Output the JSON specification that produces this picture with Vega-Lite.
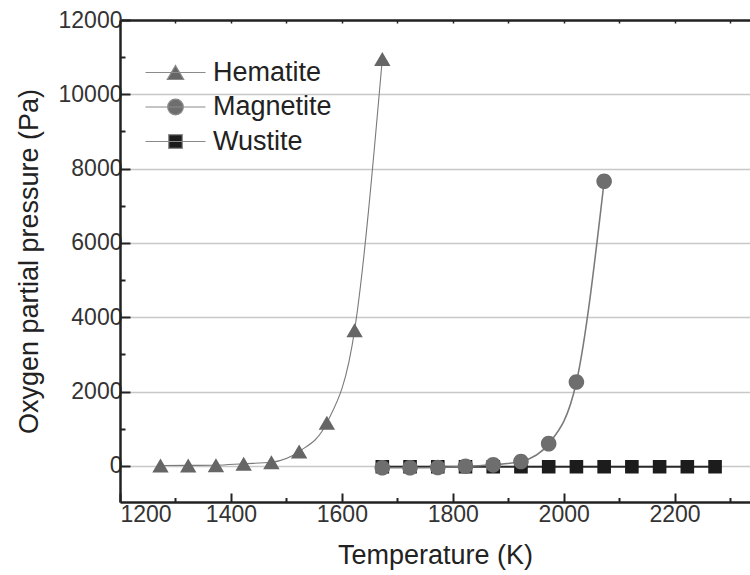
{
  "$schema": "https://vega.github.io/schema/vega-lite/v6.json",
  "width": 630,
  "height": 482,
  "autosize": {"type": "none"},
  "padding": {"left": 120, "top": 20, "right": 0, "bottom": 73},
  "background": "white",
  "config": {
    "view": {"stroke": null},
    "font": "Liberation Sans",
    "axis": {
      "labelFont": "Liberation Sans",
      "titleFont": "Liberation Sans",
      "labelFontSize": 23,
      "titleFontSize": 27,
      "titleFontWeight": "normal",
      "labelColor": "#333333",
      "titleColor": "#222222",
      "domainColor": "#222222",
      "domainWidth": 2.5,
      "tickColor": "#222222",
      "tickWidth": 2
    }
  },
  "data": {
    "values": [
      {"series": "Wustite", "T": 1673, "p": -20},
      {"series": "Wustite", "T": 1723, "p": -20},
      {"series": "Wustite", "T": 1773, "p": -20},
      {"series": "Wustite", "T": 1823, "p": -20},
      {"series": "Wustite", "T": 1873, "p": -20},
      {"series": "Wustite", "T": 1923, "p": -20},
      {"series": "Wustite", "T": 1973, "p": -20},
      {"series": "Wustite", "T": 2023, "p": -20},
      {"series": "Wustite", "T": 2073, "p": -20},
      {"series": "Wustite", "T": 2123, "p": -20},
      {"series": "Wustite", "T": 2173, "p": -20},
      {"series": "Wustite", "T": 2223, "p": -20},
      {"series": "Wustite", "T": 2273, "p": -20},
      {"series": "Magnetite", "T": 1673, "p": -50},
      {"series": "Magnetite", "T": 1723, "p": -50},
      {"series": "Magnetite", "T": 1773, "p": -40},
      {"series": "Magnetite", "T": 1823, "p": -10},
      {"series": "Magnetite", "T": 1873, "p": 30},
      {"series": "Magnetite", "T": 1923, "p": 120},
      {"series": "Magnetite", "T": 1973, "p": 600},
      {"series": "Magnetite", "T": 2023, "p": 2260},
      {"series": "Magnetite", "T": 2073, "p": 7660},
      {"series": "Hematite", "T": 1273, "p": 10},
      {"series": "Hematite", "T": 1323, "p": 15},
      {"series": "Hematite", "T": 1373, "p": 20},
      {"series": "Hematite", "T": 1423, "p": 60},
      {"series": "Hematite", "T": 1473, "p": 100},
      {"series": "Hematite", "T": 1523, "p": 390},
      {"series": "Hematite", "T": 1573, "p": 1160},
      {"series": "Hematite", "T": 1623, "p": 3650},
      {"series": "Hematite", "T": 1673, "p": 10950}
    ]
  },
  "layer": [
    {
      "mark": {"type": "line", "interpolate": "monotone"},
      "encoding": {
        "x": {
          "field": "T",
          "type": "quantitative",
          "scale": {"domain": [1200, 2336], "nice": false, "zero": false},
          "axis": {
            "orient": "bottom",
            "title": "Temperature (K)",
            "values": [1200, 1400, 1600, 1800, 2000, 2200],
            "format": "d",
            "tickSize": -9,
            "labelPadding": 10,
            "titlePadding": 16,
            "grid": false
          }
        },
        "y": {
          "field": "p",
          "type": "quantitative",
          "scale": {"domain": [-970, 12000], "nice": false, "zero": false},
          "axis": {
            "orient": "left",
            "title": "Oxygen partial pressure (Pa)",
            "values": [0, 2000, 4000, 6000, 8000, 10000, 12000],
            "format": "d",
            "tickSize": -10,
            "labelPadding": 8,
            "titlePadding": 15,
            "grid": true,
            "gridColor": "#c8c8c8",
            "gridWidth": 1.5
          }
        },
        "stroke": {
          "field": "series",
          "type": "nominal",
          "scale": {"domain": ["Wustite", "Hematite", "Magnetite"], "range": ["#2a2a2a", "#7a7a7a", "#7a7a7a"]},
          "legend": null
        },
        "strokeWidth": {
          "field": "series",
          "type": "nominal",
          "scale": {"domain": ["Wustite", "Magnetite", "Hematite"], "range": [2, 1.1, 1.1]},
          "legend": null
        }
      }
    },
    {
      "mark": {"type": "point", "filled": true, "opacity": 1, "size": 400},
      "encoding": {
        "x": {"field": "T", "type": "quantitative", "scale": {"domain": [1200, 2336], "nice": false, "zero": false}, "axis": null},
        "y": {"field": "p", "type": "quantitative", "scale": {"domain": [-970, 12000], "nice": false, "zero": false}, "axis": null},
        "shape": {
          "field": "series",
          "type": "nominal",
          "scale": {
            "domain": ["Hematite", "Magnetite", "Wustite"],
            "range": [
              "M-3,0L3,0M0,-0.7L0.82,0.7L-0.82,0.7Z",
              "M-3,0L3,0M0.78,0A0.78,0.78,0,1,1,-0.78,0A0.78,0.78,0,1,1,0.78,0Z",
              "M-3,0L3,0M-0.68,-0.68L0.68,-0.68L0.68,0.68L-0.68,0.68Z"
            ]
          },
          "legend": {"title": null}
        },
        "color": {
          "field": "series",
          "type": "nominal",
          "scale": {"domain": ["Hematite", "Magnetite", "Wustite"], "range": ["#666666", "#6e6e6e", "#1c1c1c"]},
          "legend": {
            "title": null,
            "orient": "none",
            "legendX": 42,
            "legendY": 39,
            "padding": 0,
            "symbolSize": 400,
            "symbolStrokeWidth": 1.2,
            "symbolStrokeColor": "#8a8a8a",
            "labelFont": "Liberation Sans",
            "labelFontSize": 27,
            "labelColor": "#222222",
            "labelOffset": 24,
            "rowPadding": 6.5,
            "encode": {
              "symbols": {
                "stroke": {"condition": {"test": "datum.value === 'Wustite'", "value": "#2a2a2a"}, "value": "#8a8a8a"},
                "strokeWidth": {"value": 1.2}
              }
            }
          }
        }
      }
    },
    {
      "mark": {"type": "point", "opacity": 0},
      "encoding": {
        "x": {
          "field": "T",
          "type": "quantitative",
          "scale": {"domain": [1200, 2336], "nice": false, "zero": false},
          "axis": {
            "orient": "bottom",
            "title": null,
            "labels": false,
            "domain": false,
            "values": [1300, 1500, 1700, 1900, 2100, 2300],
            "tickSize": -4.5,
            "grid": false
          }
        },
        "y": {
          "field": "p",
          "type": "quantitative",
          "scale": {"domain": [-970, 12000], "nice": false, "zero": false},
          "axis": {
            "orient": "left",
            "title": null,
            "labels": false,
            "domain": false,
            "values": [1000, 3000, 5000, 7000, 9000, 11000],
            "tickSize": -5,
            "grid": false
          }
        }
      }
    },
    {
      "mark": {"type": "point", "opacity": 0},
      "encoding": {
        "x": {
          "field": "T",
          "type": "quantitative",
          "scale": {"domain": [1200, 2336], "nice": false, "zero": false},
          "axis": {
            "orient": "top",
            "title": null,
            "labels": false,
            "values": [1300, 1400, 1500, 1600, 1700, 1800, 1900, 2000, 2100, 2200, 2300],
            "tickSize": -3,
            "tickWidth": 1.5,
            "grid": false
          }
        },
        "y": {"field": "p", "type": "quantitative", "scale": {"domain": [-970, 12000], "nice": false, "zero": false}, "axis": null}
      }
    }
  ],
  "resolve": {"axis": {"x": "independent", "y": "independent"}}
}
